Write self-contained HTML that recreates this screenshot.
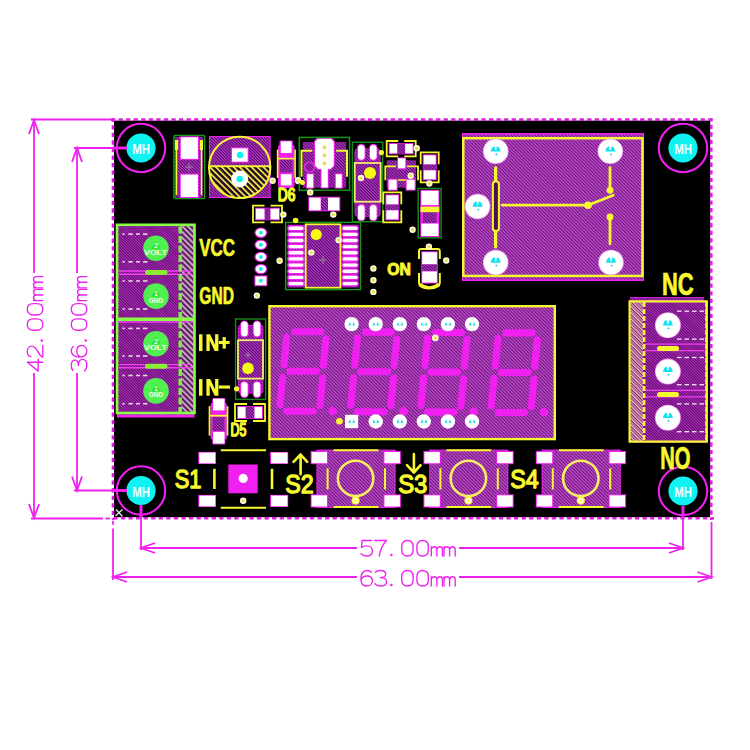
<!DOCTYPE html><html><head><meta charset="utf-8"><style>html,body{margin:0;padding:0;background:#fff;}svg{display:block}</style></head><body>
<svg width="750" height="750" viewBox="0 0 750 750">
<defs>
<pattern id="hA" patternUnits="userSpaceOnUse" width="2.2" height="2.2" patternTransform="rotate(-45)"><rect width="2.2" height="2.2" fill="#4c0a5c"/><rect width="1.2" height="2.2" fill="#b834cc"/></pattern>
<pattern id="hF" patternUnits="userSpaceOnUse" width="2.4" height="2.4" patternTransform="rotate(-45)"><rect width="2.4" height="2.4" fill="#6c1480"/><rect width="1.25" height="2.4" fill="#c450cc"/></pattern>
<pattern id="hT" patternUnits="userSpaceOnUse" width="2" height="2" patternTransform="rotate(-45)"><rect width="2" height="2" fill="#4a0852"/><rect width="1.15" height="2" fill="#b42cc4"/></pattern>
<pattern id="hY" patternUnits="userSpaceOnUse" width="4.2" height="4.2" patternTransform="rotate(-45)"><rect width="4.2" height="4.2" fill="#200820"/><rect width="1.8" height="4.2" fill="#e8e050"/></pattern>
<pattern id="hW" patternUnits="userSpaceOnUse" width="4" height="4" patternTransform="rotate(-45)"><rect width="4" height="4" fill="#602060"/><rect width="1.6" height="4" fill="#d8c0d8"/></pattern>
<pattern id="hW2" patternUnits="userSpaceOnUse" width="4.4" height="4.4" patternTransform="rotate(-45)"><rect width="4.4" height="4.4" fill="#6a1070"/><rect width="1.3" height="4.4" fill="#f0e4a0"/><rect x="2.2" width="1.3" height="4.4" fill="#f090d8"/></pattern>
</defs>
<rect width="750" height="750" fill="#fff"/>
<rect x="114.0" y="120.6" width="596.2" height="396.6" fill="#000" stroke="none" stroke-width="1" rx="0" />
<line x1="111" y1="119.6" x2="714" y2="119.6" stroke="#e020e0" stroke-width="2.6" stroke-dasharray="4.3 3.26" stroke-dashoffset="0.05"/>
<line x1="111" y1="518.2" x2="714" y2="518.2" stroke="#e020e0" stroke-width="2.6" stroke-dasharray="4.3 3.26" stroke-dashoffset="5.21"/>
<line x1="113" y1="118" x2="113" y2="520" stroke="#e020e0" stroke-width="2.6" stroke-dasharray="4.3 3.26" stroke-dashoffset="0.35"/>
<line x1="711.3" y1="118" x2="711.3" y2="520" stroke="#e020e0" stroke-width="2.6" stroke-dasharray="4.3 3.26" stroke-dashoffset="0.75"/>
<line x1="31.0" y1="119.5" x2="112.0" y2="119.5" stroke="#ee22ee" stroke-width="1.8" />
<line x1="31.0" y1="518.5" x2="103.0" y2="518.5" stroke="#ee22ee" stroke-width="1.8" />
<line x1="105.5" y1="518.5" x2="110.0" y2="518.5" stroke="#ee22ee" stroke-width="1.8" />
<line x1="34.0" y1="120.0" x2="34.0" y2="273.0" stroke="#ee22ee" stroke-width="1.8" />
<line x1="34.0" y1="373.0" x2="34.0" y2="518.0" stroke="#ee22ee" stroke-width="1.8" />
<path d="M29.0 134.0 L34.0 120.0 L39.0 134.0" fill="none" stroke="#ee22ee" stroke-width="1.8" />
<path d="M29.0 504.0 L34.0 518.0 L39.0 504.0" fill="none" stroke="#ee22ee" stroke-width="1.8" />
<line x1="74.0" y1="148.0" x2="127.0" y2="148.0" stroke="#ee22ee" stroke-width="1.8" />
<line x1="74.0" y1="490.5" x2="127.0" y2="490.5" stroke="#ee22ee" stroke-width="1.8" />
<line x1="77.0" y1="148.0" x2="77.0" y2="273.0" stroke="#ee22ee" stroke-width="1.8" />
<line x1="77.0" y1="373.0" x2="77.0" y2="490.5" stroke="#ee22ee" stroke-width="1.8" />
<path d="M72.0 162.0 L77.0 148.0 L82.0 162.0" fill="none" stroke="#ee22ee" stroke-width="1.8" />
<path d="M72.0 476.5 L77.0 490.5 L82.0 476.5" fill="none" stroke="#ee22ee" stroke-width="1.8" />
<line x1="141.0" y1="506.0" x2="141.0" y2="550.0" stroke="#ee22ee" stroke-width="1.8" />
<line x1="683.0" y1="506.0" x2="683.0" y2="550.0" stroke="#ee22ee" stroke-width="1.8" />
<line x1="141.0" y1="548.0" x2="357.0" y2="548.0" stroke="#ee22ee" stroke-width="1.8" />
<line x1="459.0" y1="548.0" x2="683.0" y2="548.0" stroke="#ee22ee" stroke-width="1.8" />
<path d="M155.0 543.0 L141.0 548.0 L155.0 553.0" fill="none" stroke="#ee22ee" stroke-width="1.8" />
<path d="M669.0 543.0 L683.0 548.0 L669.0 553.0" fill="none" stroke="#ee22ee" stroke-width="1.8" />
<line x1="113.0" y1="520.8" x2="113.0" y2="524.8" stroke="#ee22ee" stroke-width="1.8" />
<line x1="113.0" y1="528.5" x2="113.0" y2="580.0" stroke="#ee22ee" stroke-width="1.8" />
<line x1="711.5" y1="522.0" x2="711.5" y2="579.0" stroke="#ee22ee" stroke-width="1.8" />
<line x1="113.0" y1="577.0" x2="357.0" y2="577.0" stroke="#ee22ee" stroke-width="1.8" />
<line x1="459.0" y1="577.0" x2="711.5" y2="577.0" stroke="#ee22ee" stroke-width="1.8" />
<path d="M127.0 572.0 L113.0 577.0 L127.0 582.0" fill="none" stroke="#ee22ee" stroke-width="1.8" />
<path d="M697.5 572.0 L711.5 577.0 L697.5 582.0" fill="none" stroke="#ee22ee" stroke-width="1.8" />
<g transform="translate(360.6 556) rotate(0)" fill="none" stroke="#ee22ee" stroke-width="1.35" stroke-linecap="round" stroke-linejoin="round"><path transform="translate(0 0)" d="M11 -15.5 H1.6 L0.9 -8.6 C2.3 -9.7 4 -10.2 5.8 -10.2 C9.4 -10.2 11.8 -8 11.8 -5.1 C11.8 -2 9.4 0 5.9 0 C3.4 0 1.5 -0.9 0.4 -2.4"/><path transform="translate(14 0)" d="M0.3 -15.5 H11.8 C8.2 -11.5 5.6 -6.5 4.6 0"/><circle cx="30.8" cy="-1" r="1.3" fill="#ee22ee" stroke="none"/><path transform="translate(40.8 0)" d="M6 -15.5 C2.2 -15.5 0.3 -13 0.3 -9.5 V-6 C0.3 -2.5 2.2 0 6 0 C9.8 0 11.7 -2.5 11.7 -6 V-9.5 C11.7 -13 9.8 -15.5 6 -15.5 Z"/><path transform="translate(56 0)" d="M6 -15.5 C2.2 -15.5 0.3 -13 0.3 -9.5 V-6 C0.3 -2.5 2.2 0 6 0 C9.8 0 11.7 -2.5 11.7 -6 V-9.5 C11.7 -13 9.8 -15.5 6 -15.5 Z"/><path transform="translate(70.3 0)" d="M0.4 0 V-9.3 M0.4 -6.6 C1 -8.5 2.2 -9.3 3.5 -9.3 C5.2 -9.3 6 -8.2 6 -6.2 V0 M6 -6.6 C6.6 -8.5 7.8 -9.3 9.1 -9.3 C10.8 -9.3 11.6 -8.2 11.6 -6.2 V0"/><path transform="translate(83 0)" d="M0.4 0 V-9.3 M0.4 -6.6 C1 -8.5 2.2 -9.3 3.5 -9.3 C5.2 -9.3 6 -8.2 6 -6.2 V0 M6 -6.6 C6.6 -8.5 7.8 -9.3 9.1 -9.3 C10.8 -9.3 11.6 -8.2 11.6 -6.2 V0"/></g>
<g transform="translate(360.6 586) rotate(0)" fill="none" stroke="#ee22ee" stroke-width="1.35" stroke-linecap="round" stroke-linejoin="round"><path transform="translate(0 0)" d="M10.8 -13.6 C9.8 -14.9 8.3 -15.5 6.6 -15.5 C2.6 -15.5 0.3 -12.2 0.3 -7.2 C0.3 -2.6 2.5 0 6 0 C9.5 0 11.8 -2.2 11.8 -5.1 C11.8 -8.1 9.5 -10 6.3 -10 C3.6 -10 1.5 -8.6 0.4 -6.6"/><path transform="translate(14 0)" d="M0.9 -13.8 C2 -15 3.8 -15.5 5.9 -15.5 C9.2 -15.5 11.1 -13.9 11.1 -11.7 C11.1 -9.5 9.1 -8.4 5.6 -8.4 C9.6 -8.4 11.9 -6.8 11.9 -4.3 C11.9 -1.6 9.5 0 5.9 0 C3.4 0 1.5 -0.8 0.3 -2.2"/><circle cx="30.8" cy="-1" r="1.3" fill="#ee22ee" stroke="none"/><path transform="translate(40.8 0)" d="M6 -15.5 C2.2 -15.5 0.3 -13 0.3 -9.5 V-6 C0.3 -2.5 2.2 0 6 0 C9.8 0 11.7 -2.5 11.7 -6 V-9.5 C11.7 -13 9.8 -15.5 6 -15.5 Z"/><path transform="translate(56 0)" d="M6 -15.5 C2.2 -15.5 0.3 -13 0.3 -9.5 V-6 C0.3 -2.5 2.2 0 6 0 C9.8 0 11.7 -2.5 11.7 -6 V-9.5 C11.7 -13 9.8 -15.5 6 -15.5 Z"/><path transform="translate(70.3 0)" d="M0.4 0 V-9.3 M0.4 -6.6 C1 -8.5 2.2 -9.3 3.5 -9.3 C5.2 -9.3 6 -8.2 6 -6.2 V0 M6 -6.6 C6.6 -8.5 7.8 -9.3 9.1 -9.3 C10.8 -9.3 11.6 -8.2 11.6 -6.2 V0"/><path transform="translate(83 0)" d="M0.4 0 V-9.3 M0.4 -6.6 C1 -8.5 2.2 -9.3 3.5 -9.3 C5.2 -9.3 6 -8.2 6 -6.2 V0 M6 -6.6 C6.6 -8.5 7.8 -9.3 9.1 -9.3 C10.8 -9.3 11.6 -8.2 11.6 -6.2 V0"/></g>
<g transform="translate(42.8 371.3) rotate(-90)" fill="none" stroke="#ee22ee" stroke-width="1.35" stroke-linecap="round" stroke-linejoin="round"><path transform="translate(0 0)" d="M9 0 V-15.5 L0.2 -4.6 H12"/><path transform="translate(14 0)" d="M0.7 -11.9 C1.1 -14.2 3.2 -15.5 5.9 -15.5 C9 -15.5 11.2 -13.8 11.2 -11.1 C11.2 -8.5 9 -6.7 5.2 -4.6 C2.6 -3.2 0.7 -1.7 0.2 0 H11.9"/><circle cx="30.8" cy="-1" r="1.3" fill="#ee22ee" stroke="none"/><path transform="translate(40.8 0)" d="M6 -15.5 C2.2 -15.5 0.3 -13 0.3 -9.5 V-6 C0.3 -2.5 2.2 0 6 0 C9.8 0 11.7 -2.5 11.7 -6 V-9.5 C11.7 -13 9.8 -15.5 6 -15.5 Z"/><path transform="translate(56 0)" d="M6 -15.5 C2.2 -15.5 0.3 -13 0.3 -9.5 V-6 C0.3 -2.5 2.2 0 6 0 C9.8 0 11.7 -2.5 11.7 -6 V-9.5 C11.7 -13 9.8 -15.5 6 -15.5 Z"/><path transform="translate(70.3 0)" d="M0.4 0 V-9.3 M0.4 -6.6 C1 -8.5 2.2 -9.3 3.5 -9.3 C5.2 -9.3 6 -8.2 6 -6.2 V0 M6 -6.6 C6.6 -8.5 7.8 -9.3 9.1 -9.3 C10.8 -9.3 11.6 -8.2 11.6 -6.2 V0"/><path transform="translate(83 0)" d="M0.4 0 V-9.3 M0.4 -6.6 C1 -8.5 2.2 -9.3 3.5 -9.3 C5.2 -9.3 6 -8.2 6 -6.2 V0 M6 -6.6 C6.6 -8.5 7.8 -9.3 9.1 -9.3 C10.8 -9.3 11.6 -8.2 11.6 -6.2 V0"/></g>
<g transform="translate(86.8 371.3) rotate(-90)" fill="none" stroke="#ee22ee" stroke-width="1.35" stroke-linecap="round" stroke-linejoin="round"><path transform="translate(0 0)" d="M0.9 -13.8 C2 -15 3.8 -15.5 5.9 -15.5 C9.2 -15.5 11.1 -13.9 11.1 -11.7 C11.1 -9.5 9.1 -8.4 5.6 -8.4 C9.6 -8.4 11.9 -6.8 11.9 -4.3 C11.9 -1.6 9.5 0 5.9 0 C3.4 0 1.5 -0.8 0.3 -2.2"/><path transform="translate(14 0)" d="M10.8 -13.6 C9.8 -14.9 8.3 -15.5 6.6 -15.5 C2.6 -15.5 0.3 -12.2 0.3 -7.2 C0.3 -2.6 2.5 0 6 0 C9.5 0 11.8 -2.2 11.8 -5.1 C11.8 -8.1 9.5 -10 6.3 -10 C3.6 -10 1.5 -8.6 0.4 -6.6"/><circle cx="30.8" cy="-1" r="1.3" fill="#ee22ee" stroke="none"/><path transform="translate(40.8 0)" d="M6 -15.5 C2.2 -15.5 0.3 -13 0.3 -9.5 V-6 C0.3 -2.5 2.2 0 6 0 C9.8 0 11.7 -2.5 11.7 -6 V-9.5 C11.7 -13 9.8 -15.5 6 -15.5 Z"/><path transform="translate(56 0)" d="M6 -15.5 C2.2 -15.5 0.3 -13 0.3 -9.5 V-6 C0.3 -2.5 2.2 0 6 0 C9.8 0 11.7 -2.5 11.7 -6 V-9.5 C11.7 -13 9.8 -15.5 6 -15.5 Z"/><path transform="translate(70.3 0)" d="M0.4 0 V-9.3 M0.4 -6.6 C1 -8.5 2.2 -9.3 3.5 -9.3 C5.2 -9.3 6 -8.2 6 -6.2 V0 M6 -6.6 C6.6 -8.5 7.8 -9.3 9.1 -9.3 C10.8 -9.3 11.6 -8.2 11.6 -6.2 V0"/><path transform="translate(83 0)" d="M0.4 0 V-9.3 M0.4 -6.6 C1 -8.5 2.2 -9.3 3.5 -9.3 C5.2 -9.3 6 -8.2 6 -6.2 V0 M6 -6.6 C6.6 -8.5 7.8 -9.3 9.1 -9.3 C10.8 -9.3 11.6 -8.2 11.6 -6.2 V0"/></g>
<path d="M115.5 516 L122.5 509.5 M116 509.5 L122.5 516.5" fill="none" stroke="#e8e8e8" stroke-width="1.3" />
<circle cx="141.0" cy="148.0" r="24.2" fill="none" stroke="#f020f0" stroke-width="2.1" />
<circle cx="141.0" cy="148.0" r="14.6" fill="#10f2f2" stroke="none" stroke-width="1" />
<text x="132.2" y="154.0" font-family="Liberation Sans" font-size="14.4" font-weight="bold" fill="#f4ffff" textLength="17.8" lengthAdjust="spacingAndGlyphs">MH</text>
<circle cx="683.0" cy="148.0" r="24.2" fill="none" stroke="#f020f0" stroke-width="2.1" />
<circle cx="683.0" cy="148.0" r="14.6" fill="#10f2f2" stroke="none" stroke-width="1" />
<text x="674.2" y="154.0" font-family="Liberation Sans" font-size="14.4" font-weight="bold" fill="#f4ffff" textLength="17.8" lengthAdjust="spacingAndGlyphs">MH</text>
<circle cx="141.0" cy="490.5" r="24.2" fill="none" stroke="#f020f0" stroke-width="2.1" />
<circle cx="141.0" cy="490.5" r="14.6" fill="#10f2f2" stroke="none" stroke-width="1" />
<text x="132.2" y="496.5" font-family="Liberation Sans" font-size="14.4" font-weight="bold" fill="#f4ffff" textLength="17.8" lengthAdjust="spacingAndGlyphs">MH</text>
<circle cx="683.0" cy="491.0" r="24.2" fill="none" stroke="#f020f0" stroke-width="2.1" />
<circle cx="683.0" cy="491.0" r="14.6" fill="#10f2f2" stroke="none" stroke-width="1" />
<text x="674.2" y="497.0" font-family="Liberation Sans" font-size="14.4" font-weight="bold" fill="#f4ffff" textLength="17.8" lengthAdjust="spacingAndGlyphs">MH</text>
<line x1="113.0" y1="148.0" x2="127.0" y2="148.0" stroke="#f020f0" stroke-width="3" />
<line x1="113.0" y1="490.5" x2="127.0" y2="490.5" stroke="#f020f0" stroke-width="3" />
<line x1="141.0" y1="505.0" x2="141.0" y2="518.0" stroke="#f020f0" stroke-width="3" />
<line x1="683.0" y1="506.0" x2="683.0" y2="518.0" stroke="#f020f0" stroke-width="3" />
<rect x="117.0" y="224.0" width="77.5" height="193.5" fill="#f020f0" stroke="none" stroke-width="1" rx="0" />
<rect x="118.0" y="225.0" width="75.5" height="189.5" fill="url(#hT)" stroke="none" stroke-width="1" rx="0" />
<rect x="181.5" y="226.0" width="12.0" height="188.0" fill="url(#hW)" stroke="none" stroke-width="1" rx="0" />
<line x1="119.0" y1="271.0" x2="192.0" y2="271.0" stroke="#f040f0" stroke-width="1.4" />
<line x1="119.0" y1="274.2" x2="192.0" y2="274.2" stroke="#f040f0" stroke-width="1.4" />
<line x1="119.0" y1="364.6" x2="192.0" y2="364.6" stroke="#f040f0" stroke-width="1.4" />
<line x1="119.0" y1="367.8" x2="192.0" y2="367.8" stroke="#f040f0" stroke-width="1.4" />
<rect x="117.0" y="224.8" width="77.5" height="188.2" fill="none" stroke="#88ff44" stroke-width="2.6" rx="0" />
<line x1="118.0" y1="322.0" x2="193.0" y2="322.0" stroke="#f040f0" stroke-width="1.6" />
<line x1="117.0" y1="319.2" x2="194.5" y2="319.2" stroke="#88ff44" stroke-width="3.4" />
<line x1="180.2" y1="226.5" x2="180.2" y2="412.0" stroke="#80f040" stroke-width="3.4" stroke-dasharray="7 2.5"/>
<line x1="117.5" y1="227.0" x2="117.5" y2="412.0" stroke="#88ff44" stroke-width="1.5" stroke-dasharray="3 3"/>
<circle cx="156.0" cy="248.2" r="12.8" fill="#50f050" stroke="none" stroke-width="1" />
<circle cx="156.0" cy="296.1" r="12.8" fill="#50f050" stroke="none" stroke-width="1" />
<circle cx="156.0" cy="343.8" r="12.8" fill="#50f050" stroke="none" stroke-width="1" />
<circle cx="156.0" cy="390.9" r="12.8" fill="#50f050" stroke="none" stroke-width="1" />
<line x1="147.5" y1="272.6" x2="165.0" y2="272.6" stroke="#88f030" stroke-width="5" stroke-linecap="round"/>
<line x1="147.5" y1="366.2" x2="165.0" y2="366.2" stroke="#88f030" stroke-width="5" stroke-linecap="round"/>
<line x1="122.5" y1="234.1" x2="124.7" y2="234.1" stroke="#e8d8e8" stroke-width="1.6" />
<line x1="128.4" y1="234.1" x2="132.7" y2="234.1" stroke="#e8d8e8" stroke-width="1.6" />
<line x1="136.1" y1="234.1" x2="139.9" y2="234.1" stroke="#e8d8e8" stroke-width="1.6" />
<line x1="143.0" y1="234.1" x2="147.4" y2="234.1" stroke="#e8d8e8" stroke-width="1.6" />
<line x1="122.5" y1="261.8" x2="124.7" y2="261.8" stroke="#e8d8e8" stroke-width="1.6" />
<line x1="128.4" y1="261.8" x2="132.7" y2="261.8" stroke="#e8d8e8" stroke-width="1.6" />
<line x1="136.1" y1="261.8" x2="139.9" y2="261.8" stroke="#e8d8e8" stroke-width="1.6" />
<line x1="143.0" y1="261.8" x2="147.4" y2="261.8" stroke="#e8d8e8" stroke-width="1.6" />
<line x1="122.5" y1="281.0" x2="124.7" y2="281.0" stroke="#e8d8e8" stroke-width="1.6" />
<line x1="128.4" y1="281.0" x2="132.7" y2="281.0" stroke="#e8d8e8" stroke-width="1.6" />
<line x1="136.1" y1="281.0" x2="139.9" y2="281.0" stroke="#e8d8e8" stroke-width="1.6" />
<line x1="143.0" y1="281.0" x2="147.4" y2="281.0" stroke="#e8d8e8" stroke-width="1.6" />
<line x1="122.5" y1="309.0" x2="124.7" y2="309.0" stroke="#e8d8e8" stroke-width="1.6" />
<line x1="128.4" y1="309.0" x2="132.7" y2="309.0" stroke="#e8d8e8" stroke-width="1.6" />
<line x1="136.1" y1="309.0" x2="139.9" y2="309.0" stroke="#e8d8e8" stroke-width="1.6" />
<line x1="143.0" y1="309.0" x2="147.4" y2="309.0" stroke="#e8d8e8" stroke-width="1.6" />
<line x1="122.5" y1="328.4" x2="124.7" y2="328.4" stroke="#e8d8e8" stroke-width="1.6" />
<line x1="128.4" y1="328.4" x2="132.7" y2="328.4" stroke="#e8d8e8" stroke-width="1.6" />
<line x1="136.1" y1="328.4" x2="139.9" y2="328.4" stroke="#e8d8e8" stroke-width="1.6" />
<line x1="143.0" y1="328.4" x2="147.4" y2="328.4" stroke="#e8d8e8" stroke-width="1.6" />
<line x1="122.5" y1="356.0" x2="124.7" y2="356.0" stroke="#e8d8e8" stroke-width="1.6" />
<line x1="128.4" y1="356.0" x2="132.7" y2="356.0" stroke="#e8d8e8" stroke-width="1.6" />
<line x1="136.1" y1="356.0" x2="139.9" y2="356.0" stroke="#e8d8e8" stroke-width="1.6" />
<line x1="143.0" y1="356.0" x2="147.4" y2="356.0" stroke="#e8d8e8" stroke-width="1.6" />
<line x1="122.5" y1="375.5" x2="124.7" y2="375.5" stroke="#e8d8e8" stroke-width="1.6" />
<line x1="128.4" y1="375.5" x2="132.7" y2="375.5" stroke="#e8d8e8" stroke-width="1.6" />
<line x1="136.1" y1="375.5" x2="139.9" y2="375.5" stroke="#e8d8e8" stroke-width="1.6" />
<line x1="143.0" y1="375.5" x2="147.4" y2="375.5" stroke="#e8d8e8" stroke-width="1.6" />
<line x1="122.5" y1="403.7" x2="124.7" y2="403.7" stroke="#e8d8e8" stroke-width="1.6" />
<line x1="128.4" y1="403.7" x2="132.7" y2="403.7" stroke="#e8d8e8" stroke-width="1.6" />
<line x1="136.1" y1="403.7" x2="139.9" y2="403.7" stroke="#e8d8e8" stroke-width="1.6" />
<line x1="143.0" y1="403.7" x2="147.4" y2="403.7" stroke="#e8d8e8" stroke-width="1.6" />
<path d="M151.5 248.7 L156 241.2 L160.5 248.7 Z" fill="#20e030" stroke="none" stroke-width="1" />
<text x="156.0" y="248.2" font-family="Liberation Sans" font-size="7" font-weight="bold" fill="#e8ffe8" text-anchor="middle" >2</text>
<text x="144" y="254.7" font-family="Liberation Sans" font-size="8" font-weight="bold" fill="#f0fff0" textLength="23" lengthAdjust="spacingAndGlyphs">VOLT</text>
<path d="M151.5 296.6 L156 289.1 L160.5 296.6 Z" fill="#20e030" stroke="none" stroke-width="1" />
<text x="156.0" y="296.1" font-family="Liberation Sans" font-size="7" font-weight="bold" fill="#e8ffe8" text-anchor="middle" >1</text>
<text x="148.7" y="302.6" font-family="Liberation Sans" font-size="8" font-weight="bold" fill="#f0fff0" textLength="14.6" lengthAdjust="spacingAndGlyphs">GND</text>
<path d="M151.5 344.3 L156 336.8 L160.5 344.3 Z" fill="#20e030" stroke="none" stroke-width="1" />
<text x="156.0" y="343.8" font-family="Liberation Sans" font-size="7" font-weight="bold" fill="#e8ffe8" text-anchor="middle" >2</text>
<text x="144" y="350.3" font-family="Liberation Sans" font-size="8" font-weight="bold" fill="#f0fff0" textLength="23" lengthAdjust="spacingAndGlyphs">VOLT</text>
<path d="M151.5 391.4 L156 383.9 L160.5 391.4 Z" fill="#20e030" stroke="none" stroke-width="1" />
<text x="156.0" y="390.9" font-family="Liberation Sans" font-size="7" font-weight="bold" fill="#e8ffe8" text-anchor="middle" >1</text>
<text x="148.7" y="397.4" font-family="Liberation Sans" font-size="8" font-weight="bold" fill="#f0fff0" textLength="14.6" lengthAdjust="spacingAndGlyphs">GND</text>
<text x="199.15" y="256.35" font-family="Liberation Sans" font-size="23" font-weight="bold" fill="#f8f830" stroke="#f8f830" stroke-width="0.7" stroke-linejoin="round" textLength="35.70" lengthAdjust="spacingAndGlyphs">VCC</text>
<text x="199.35" y="303.55" font-family="Liberation Sans" font-size="23" font-weight="bold" fill="#f8f830" stroke="#f8f830" stroke-width="0.7" stroke-linejoin="round" textLength="34.60" lengthAdjust="spacingAndGlyphs">GND</text>
<rect x="199.0" y="334.3" width="3.5" height="16.7" fill="#f8f830" stroke="none" stroke-width="1" rx="0" />
<path d="M206.4 334.3 H210.1 L215.1 344.8 V334.3 H218.4 V351 H214.7 L209.7 340.5 V351 H206.4 Z" fill="#f8f830" stroke="none" stroke-width="1" />
<rect x="222.6" y="337.1" width="3.2" height="11.5" fill="#f8f830" stroke="none" stroke-width="1" rx="0" />
<rect x="218.8" y="341.0" width="10.8" height="3.0" fill="#f8f830" stroke="none" stroke-width="1" rx="0" />
<rect x="199.0" y="379.1" width="3.5" height="16.6" fill="#f8f830" stroke="none" stroke-width="1" rx="0" />
<path d="M206.4 379.1 H210.1 L215.1 389.5 V379.1 H218.4 V395.7 H214.7 L209.7 385.3 V395.7 H206.4 Z" fill="#f8f830" stroke="none" stroke-width="1" />
<rect x="218.8" y="385.5" width="11.2" height="3.1" fill="#f8f830" stroke="none" stroke-width="1" rx="0" />
<rect x="175.0" y="137.0" width="28.0" height="60.5" fill="url(#hA)" stroke="none" stroke-width="1" rx="0" />
<rect x="174.0" y="135.5" width="30.6" height="63.1" fill="none" stroke="#1a9a1a" stroke-width="1.5" rx="1" />
<rect x="179.8" y="136.3" width="19.1" height="23.6" fill="#f020f0" stroke="none" stroke-width="1" rx="0" />
<rect x="180.8" y="137.3" width="17.1" height="21.6" fill="#fff" stroke="none" stroke-width="1" rx="0" />
<rect x="179.8" y="173.6" width="19.1" height="24.4" fill="#f020f0" stroke="none" stroke-width="1" rx="0" />
<rect x="180.8" y="174.6" width="17.1" height="22.4" fill="#fff" stroke="none" stroke-width="1" rx="0" />
<line x1="176.5" y1="140.0" x2="176.5" y2="195.0" stroke="#f8f830" stroke-width="1.5" />
<line x1="201.5" y1="140.0" x2="201.5" y2="195.0" stroke="#f8f830" stroke-width="1.5" />
<rect x="175.0" y="140.0" width="3.2" height="10.0" fill="#f8f830" stroke="none" stroke-width="1" rx="0" />
<rect x="199.8" y="140.0" width="3.2" height="10.0" fill="#f8f830" stroke="none" stroke-width="1" rx="0" />
<line x1="185.0" y1="167.0" x2="193.0" y2="167.0" stroke="#a0a0a0" stroke-width="0.8" />
<line x1="189.0" y1="163.0" x2="189.0" y2="171.0" stroke="#a0a0a0" stroke-width="0.8" />
<rect x="209.0" y="136.0" width="61.7" height="62.0" fill="#f020f0" stroke="none" stroke-width="1" rx="0" />
<rect x="210.0" y="137.0" width="59.7" height="60.0" fill="url(#hA)" stroke="none" stroke-width="1" rx="0" />
<clipPath id="ecb"><rect x="205" y="166.3" width="70" height="40"/></clipPath>
<circle cx="239.7" cy="167.4" r="30.7" fill="url(#hY)" stroke="none" stroke-width="1" clip-path="url(#ecb)"/>
<circle cx="239.7" cy="167.4" r="30.7" fill="none" stroke="#f8f830" stroke-width="2" />
<line x1="209.5" y1="166.3" x2="270.2" y2="166.3" stroke="#f8f830" stroke-width="2" />
<rect x="231.0" y="147.3" width="17.7" height="15.4" fill="#f020f0" stroke="none" stroke-width="1" rx="0" />
<rect x="232.0" y="148.3" width="15.7" height="13.4" fill="#fff" stroke="none" stroke-width="1" rx="0" />
<circle cx="240.0" cy="155.0" r="3.2" fill="#10f2f2" stroke="none" stroke-width="1" />
<circle cx="239.7" cy="179.0" r="8.5" fill="#fff" stroke="none" stroke-width="1" />
<circle cx="239.7" cy="179.0" r="3.2" fill="#10f2f2" stroke="none" stroke-width="1" />
<rect x="278.0" y="144.5" width="16.6" height="43.5" fill="#f020f0" stroke="none" stroke-width="1" rx="3" />
<rect x="279.5" y="140.4" width="13.4" height="13.6" fill="#f020f0" stroke="none" stroke-width="1" rx="1" />
<rect x="279.5" y="173.3" width="13.4" height="13.1" fill="#f020f0" stroke="none" stroke-width="1" rx="1" />
<rect x="279.8" y="159.5" width="12.8" height="13.0" fill="url(#hA)" stroke="none" stroke-width="1" rx="0" />
<rect x="280.8" y="141.3" width="10.8" height="11.7" fill="#fff" stroke="none" stroke-width="1" rx="0" />
<rect x="280.8" y="174.2" width="10.8" height="11.2" fill="#fff" stroke="none" stroke-width="1" rx="0" />
<line x1="277.6" y1="149.5" x2="277.6" y2="178.0" stroke="#f8f830" stroke-width="1.6" />
<line x1="295.1" y1="149.5" x2="295.1" y2="178.0" stroke="#f8f830" stroke-width="1.6" />
<line x1="277.6" y1="158.6" x2="295.1" y2="158.6" stroke="#f8f830" stroke-width="1.6" />
<text x="277.70" y="200.80" font-family="Liberation Sans" font-size="18" fill="#f8f830" stroke="#f8f830" stroke-width="1.6" stroke-linejoin="round" textLength="17.60" lengthAdjust="spacingAndGlyphs">D6</text>
<circle cx="272.7" cy="180.8" r="3.2" fill="#fffbe0" stroke="none" stroke-width="1" />
<circle cx="272.7" cy="180.8" r="1.6" fill="#e8e040" stroke="none" stroke-width="1" />
<circle cx="298.3" cy="181.0" r="3.2" fill="#fffbe0" stroke="none" stroke-width="1" />
<circle cx="298.3" cy="181.0" r="1.6" fill="#e8e040" stroke="none" stroke-width="1" />
<rect x="255.0" y="207.7" width="25.0" height="12.6" fill="#f020f0" stroke="none" stroke-width="1" rx="0" />
<rect x="264.5" y="208.2" width="6.0" height="11.6" fill="url(#hA)" stroke="none" stroke-width="1" rx="0" />
<rect x="256.0" y="208.7" width="8.5" height="10.6" fill="#fff" stroke="none" stroke-width="1" rx="0" />
<rect x="270.5" y="208.7" width="8.5" height="10.6" fill="#fff" stroke="none" stroke-width="1" rx="0" />
<path d="M264.5 205.7 H253.0 V222.3 H264.5 M270.5 205.7 H282.0 V222.3 H270.5" fill="none" stroke="#f8f830" stroke-width="1.8" />
<circle cx="283.3" cy="214.6" r="3.2" fill="#fffbe0" stroke="none" stroke-width="1" />
<circle cx="283.3" cy="214.6" r="1.6" fill="#e8e040" stroke="none" stroke-width="1" />
<rect x="302.8" y="142.0" width="43.4" height="45.7" fill="url(#hA)" stroke="none" stroke-width="1" rx="0" />
<path d="M317 137.7 H332 L334.8 141 V166 L331 170 H328.8 V188.4 H320.5 V170 H318 L314.1 166 V141 Z" fill="#f020f0" stroke="none" stroke-width="1" />
<rect x="306.1" y="173.2" width="8.1" height="15.5" fill="#f020f0" stroke="none" stroke-width="1" rx="0" />
<rect x="334.8" y="173.2" width="8.0" height="15.5" fill="#f020f0" stroke="none" stroke-width="1" rx="0" />
<path d="M318 138.7 H331 L333.8 141.5 V165.5 L330.5 169 H327.8 V187.4 H321.5 V169 H318.5 L315.1 165.5 V141.5 Z" fill="#fff" stroke="none" stroke-width="1" />
<rect x="307.1" y="174.2" width="6.1" height="13.5" fill="#fff" stroke="none" stroke-width="1" rx="0" />
<rect x="335.8" y="174.2" width="6.0" height="13.5" fill="#fff" stroke="none" stroke-width="1" rx="0" />
<circle cx="324.5" cy="147.3" r="1.8" fill="#e8d840" stroke="none" stroke-width="1" />
<circle cx="324.5" cy="155.3" r="1.8" fill="#e8d840" stroke="none" stroke-width="1" />
<circle cx="324.5" cy="163.2" r="1.8" fill="#e8d840" stroke="none" stroke-width="1" />
<circle cx="309.5" cy="167.0" r="5.0" fill="none" stroke="#f030f0" stroke-width="1.2" />
<rect x="299.3" y="137.4" width="50.2" height="52.9" fill="none" stroke="#1a8a1a" stroke-width="1.6" rx="0" />
<path d="M312.3 150.8 H301.5 V176.8" fill="none" stroke="#f8f830" stroke-width="2" />
<path d="M336.2 150.8 H347 V176.8" fill="none" stroke="#f8f830" stroke-width="2" />
<circle cx="298.0" cy="180.3" r="3.2" fill="#fffbe0" stroke="none" stroke-width="1" />
<circle cx="298.0" cy="180.3" r="1.6" fill="#e8e040" stroke="none" stroke-width="1" />
<circle cx="302.4" cy="182.5" r="2.5" fill="#f8f830" stroke="none" stroke-width="1" />
<circle cx="310.2" cy="192.4" r="3.2" fill="#fffbe0" stroke="none" stroke-width="1" />
<circle cx="310.2" cy="192.4" r="1.6" fill="#e8e040" stroke="none" stroke-width="1" />
<rect x="308.3" y="196.7" width="32.0" height="14.6" fill="#f020f0" stroke="none" stroke-width="1" rx="0" />
<rect x="320.7" y="197.7" width="7.3" height="12.6" fill="url(#hA)" stroke="none" stroke-width="1" rx="0" />
<rect x="309.3" y="197.7" width="11.4" height="12.6" fill="#fff" stroke="none" stroke-width="1" rx="0" />
<rect x="328.0" y="197.7" width="11.3" height="12.6" fill="#fff" stroke="none" stroke-width="1" rx="0" />
<circle cx="333.3" cy="214.6" r="3.2" fill="#fffbe0" stroke="none" stroke-width="1" />
<circle cx="333.3" cy="214.6" r="1.6" fill="#e8e040" stroke="none" stroke-width="1" />
<rect x="354.6" y="148.5" width="25.9" height="68.3" fill="#f020f0" stroke="none" stroke-width="1" rx="3" />
<rect x="355.4" y="149.2" width="24.3" height="66.9" fill="url(#hA)" stroke="none" stroke-width="1" rx="0" />
<rect x="357.0" y="143.8" width="8.6" height="17.1" fill="#f020f0" stroke="none" stroke-width="1" rx="4.3" />
<rect x="358.0" y="145.0" width="6.6" height="14.7" fill="#fff" stroke="none" stroke-width="1" rx="3.3" />
<rect x="357.0" y="203.8" width="8.6" height="17.7" fill="#f020f0" stroke="none" stroke-width="1" rx="4.3" />
<rect x="358.0" y="205.0" width="6.6" height="15.3" fill="#fff" stroke="none" stroke-width="1" rx="3.3" />
<rect x="369.0" y="143.8" width="8.6" height="17.1" fill="#f020f0" stroke="none" stroke-width="1" rx="4.3" />
<rect x="370.0" y="145.0" width="6.6" height="14.7" fill="#fff" stroke="none" stroke-width="1" rx="3.3" />
<rect x="369.0" y="203.8" width="8.6" height="17.7" fill="#f020f0" stroke="none" stroke-width="1" rx="4.3" />
<rect x="370.0" y="205.0" width="6.6" height="15.3" fill="#fff" stroke="none" stroke-width="1" rx="3.3" />
<rect x="354.7" y="163.0" width="26.0" height="38.7" fill="none" stroke="#f4ec70" stroke-width="1.8" rx="0" />
<circle cx="370.0" cy="173.0" r="6.0" fill="#f6fc10" stroke="none" stroke-width="1" />
<rect x="352.4" y="142.3" width="30.3" height="79.4" fill="none" stroke="#1a8a1a" stroke-width="1.4" rx="0" />
<circle cx="361.0" cy="178.0" r="3.2" fill="#fffbe0" stroke="none" stroke-width="1" />
<circle cx="361.0" cy="178.0" r="1.6" fill="#e8e040" stroke="none" stroke-width="1" />
<circle cx="381.4" cy="152.6" r="2.6" fill="#f8f830" stroke="none" stroke-width="1" />
<rect x="388.7" y="143.0" width="25.0" height="11.3" fill="#f020f0" stroke="none" stroke-width="1" rx="0" />
<rect x="397.2" y="143.5" width="8.0" height="10.3" fill="url(#hA)" stroke="none" stroke-width="1" rx="0" />
<rect x="389.7" y="144.0" width="7.5" height="9.3" fill="#fff" stroke="none" stroke-width="1" rx="0" />
<rect x="405.2" y="144.0" width="7.5" height="9.3" fill="#fff" stroke="none" stroke-width="1" rx="0" />
<path d="M398.2 141.0 H386.7 V156.3 H398.2 M404.2 141.0 H415.7 V156.3 H404.2" fill="none" stroke="#f8f830" stroke-width="1.8" />
<circle cx="416.7" cy="148.3" r="3.2" fill="#fffbe0" stroke="none" stroke-width="1" />
<circle cx="416.7" cy="148.3" r="1.6" fill="#e8e040" stroke="none" stroke-width="1" />
<rect x="386.7" y="160.3" width="29.3" height="27.4" fill="url(#hA)" stroke="none" stroke-width="1" rx="0" />
<rect x="397.0" y="157.3" width="9.3" height="12.0" fill="#f020f0" stroke="none" stroke-width="1" rx="0" />
<rect x="398.0" y="158.3" width="7.3" height="10.0" fill="#fff" stroke="none" stroke-width="1" rx="0" />
<rect x="387.7" y="178.7" width="10.0" height="12.0" fill="#f020f0" stroke="none" stroke-width="1" rx="0" />
<rect x="388.7" y="179.7" width="8.0" height="10.0" fill="#fff" stroke="none" stroke-width="1" rx="0" />
<rect x="405.7" y="178.7" width="10.0" height="12.0" fill="#f020f0" stroke="none" stroke-width="1" rx="0" />
<rect x="406.7" y="179.7" width="8.0" height="10.0" fill="#fff" stroke="none" stroke-width="1" rx="0" />
<path d="M396 166.3 H385.3 V180.3 M407 166.3 H418 V180.3" fill="none" stroke="#f8f830" stroke-width="1.8" />
<line x1="398.0" y1="180.0" x2="406.0" y2="180.0" stroke="#f8f830" stroke-width="1.5" />
<circle cx="410.7" cy="175.7" r="3.2" fill="#fffbe0" stroke="none" stroke-width="1" />
<circle cx="410.7" cy="175.7" r="1.6" fill="#e8e040" stroke="none" stroke-width="1" />
<rect x="422.7" y="154.3" width="14.0" height="26.0" fill="#f020f0" stroke="none" stroke-width="1" rx="0" />
<rect x="423.2" y="164.3" width="13.0" height="6.0" fill="url(#hA)" stroke="none" stroke-width="1" rx="0" />
<rect x="423.7" y="155.3" width="12.0" height="9.0" fill="#fff" stroke="none" stroke-width="1" rx="0" />
<rect x="423.7" y="170.3" width="12.0" height="9.0" fill="#fff" stroke="none" stroke-width="1" rx="0" />
<path d="M420.7 164.3 V152.3 H438.7 V164.3 M420.7 170.3 V182.3 H438.7 V170.3" fill="none" stroke="#f8f830" stroke-width="1.8" />
<circle cx="429.3" cy="183.5" r="3.2" fill="#fffbe0" stroke="none" stroke-width="1" />
<circle cx="429.3" cy="183.5" r="1.6" fill="#e8e040" stroke="none" stroke-width="1" />
<rect x="385.3" y="194.3" width="14.0" height="26.0" fill="#f020f0" stroke="none" stroke-width="1" rx="0" />
<rect x="385.8" y="204.3" width="13.0" height="6.0" fill="url(#hA)" stroke="none" stroke-width="1" rx="0" />
<rect x="386.3" y="195.3" width="12.0" height="9.0" fill="#fff" stroke="none" stroke-width="1" rx="0" />
<rect x="386.3" y="210.3" width="12.0" height="9.0" fill="#fff" stroke="none" stroke-width="1" rx="0" />
<path d="M383.3 204.3 V192.3 H401.3 V204.3 M383.3 210.3 V222.3 H401.3 V210.3" fill="none" stroke="#f8f830" stroke-width="1.8" />
<rect x="420.3" y="189.8" width="19.2" height="47.2" fill="#f020f0" stroke="none" stroke-width="1" rx="0" />
<rect x="423.0" y="212.0" width="13.6" height="11.0" fill="url(#hA)" stroke="none" stroke-width="1" rx="0" />
<rect x="421.3" y="190.8" width="17.2" height="14.2" fill="#fff" stroke="none" stroke-width="1" rx="0" />
<rect x="420.5" y="206.6" width="18.8" height="5.6" fill="#f8f830" stroke="none" stroke-width="1" rx="0" />
<rect x="421.3" y="223.6" width="17.2" height="12.4" fill="#fff" stroke="none" stroke-width="1" rx="0" />
<rect x="418.2" y="188.5" width="22.9" height="49.3" fill="none" stroke="#1a8a1a" stroke-width="1.4" rx="0" />
<circle cx="412.6" cy="229.8" r="3.2" fill="#fffbe0" stroke="none" stroke-width="1" />
<circle cx="412.6" cy="229.8" r="1.6" fill="#e8e040" stroke="none" stroke-width="1" />
<rect x="421.2" y="251.2" width="16.7" height="32.4" fill="#f020f0" stroke="none" stroke-width="1" rx="0" />
<rect x="422.2" y="264.2" width="14.7" height="7.2" fill="url(#hA)" stroke="none" stroke-width="1" rx="0" />
<rect x="422.2" y="252.2" width="14.7" height="12.0" fill="#fff" stroke="none" stroke-width="1" rx="0" />
<rect x="422.2" y="271.4" width="14.7" height="11.2" fill="#fff" stroke="none" stroke-width="1" rx="0" />
<path d="M419 259 V251 Q419 249 421 249 H437.5 Q439.8 249 439.8 251 V259 M419 273 V283 Q419 288 429 288.5 Q439.8 288 439.8 283 V273" fill="none" stroke="#f8f830" stroke-width="2" />
<path d="M420 284 Q429 291 439 284" fill="none" stroke="#f8f830" stroke-width="2.5" />
<circle cx="428.9" cy="246.6" r="3.2" fill="#fffbe0" stroke="none" stroke-width="1" />
<circle cx="428.9" cy="246.6" r="1.6" fill="#e8e040" stroke="none" stroke-width="1" />
<circle cx="446.2" cy="260.5" r="3.2" fill="#fffbe0" stroke="none" stroke-width="1" />
<circle cx="446.2" cy="260.5" r="1.6" fill="#e8e040" stroke="none" stroke-width="1" />
<text x="387.20" y="274.50" font-family="Liberation Sans" font-size="16.5" font-weight="bold" fill="#f8f830" stroke="#f8f830" stroke-width="1.0" stroke-linejoin="round" textLength="23.60" lengthAdjust="spacingAndGlyphs">ON</text>
<circle cx="373.4" cy="268.5" r="3.2" fill="#fffbe0" stroke="none" stroke-width="1" />
<circle cx="373.4" cy="268.5" r="1.6" fill="#e8e040" stroke="none" stroke-width="1" />
<circle cx="373.4" cy="280.2" r="3.2" fill="#fffbe0" stroke="none" stroke-width="1" />
<circle cx="373.4" cy="280.2" r="1.6" fill="#e8e040" stroke="none" stroke-width="1" />
<circle cx="373.4" cy="291.9" r="3.2" fill="#fffbe0" stroke="none" stroke-width="1" />
<circle cx="373.4" cy="291.9" r="1.6" fill="#e8e040" stroke="none" stroke-width="1" />
<rect x="462.0" y="133.0" width="182.0" height="148.0" fill="#f020f0" stroke="none" stroke-width="1" rx="0" />
<rect x="463.0" y="134.5" width="180.0" height="145.0" fill="url(#hF)" stroke="none" stroke-width="1" rx="0" />
<rect x="463.3" y="138.2" width="179.2" height="137.7" fill="none" stroke="#f8f830" stroke-width="2.5" rx="0" />
<circle cx="495.7" cy="151.3" r="12.8" fill="#f0a0f0" stroke="none" stroke-width="1" />
<circle cx="495.7" cy="151.3" r="12.0" fill="#fff" stroke="none" stroke-width="1" />
<path d="M490.7 151.6 Q491.5 146.4 494.7 146.4 L495.1 150.0 H496.3 L496.7 146.4 Q499.9 146.4 500.7 151.6 Z" fill="#10e4ee" stroke="none" stroke-width="1" />
<circle cx="496.3" cy="154.4" r="0.9" fill="#10c8d0" stroke="none" stroke-width="1" />
<circle cx="610.3" cy="151.3" r="12.8" fill="#f0a0f0" stroke="none" stroke-width="1" />
<circle cx="610.3" cy="151.3" r="12.0" fill="#fff" stroke="none" stroke-width="1" />
<path d="M605.3 151.6 Q606.1 146.4 609.3 146.4 L609.7 150.0 H610.9 L611.3 146.4 Q614.5 146.4 615.3 151.6 Z" fill="#10e4ee" stroke="none" stroke-width="1" />
<circle cx="610.9" cy="154.4" r="0.9" fill="#10c8d0" stroke="none" stroke-width="1" />
<circle cx="477.6" cy="206.5" r="12.8" fill="#f0a0f0" stroke="none" stroke-width="1" />
<circle cx="477.6" cy="206.5" r="12.0" fill="#fff" stroke="none" stroke-width="1" />
<path d="M472.6 206.8 Q473.4 201.6 476.6 201.6 L477.0 205.2 H478.2 L478.6 201.6 Q481.8 201.6 482.6 206.8 Z" fill="#10e4ee" stroke="none" stroke-width="1" />
<circle cx="478.2" cy="209.6" r="0.9" fill="#10c8d0" stroke="none" stroke-width="1" />
<circle cx="495.7" cy="262.5" r="12.8" fill="#f0a0f0" stroke="none" stroke-width="1" />
<circle cx="495.7" cy="262.5" r="12.0" fill="#fff" stroke="none" stroke-width="1" />
<path d="M490.7 262.8 Q491.5 257.6 494.7 257.6 L495.1 261.2 H496.3 L496.7 257.6 Q499.9 257.6 500.7 262.8 Z" fill="#10e4ee" stroke="none" stroke-width="1" />
<circle cx="496.3" cy="265.6" r="0.9" fill="#10c8d0" stroke="none" stroke-width="1" />
<circle cx="611.0" cy="262.5" r="12.8" fill="#f0a0f0" stroke="none" stroke-width="1" />
<circle cx="611.0" cy="262.5" r="12.0" fill="#fff" stroke="none" stroke-width="1" />
<path d="M606.0 262.8 Q606.8 257.6 610.0 257.6 L610.4 261.2 H611.6 L612.0 257.6 Q615.2 257.6 616.0 262.8 Z" fill="#10e4ee" stroke="none" stroke-width="1" />
<circle cx="611.6" cy="265.6" r="0.9" fill="#10c8d0" stroke="none" stroke-width="1" />
<line x1="495.6" y1="167.8" x2="495.6" y2="247.0" stroke="#f8f830" stroke-width="3.2" stroke-linecap="round"/>
<rect x="492.9" y="181.6" width="6.0" height="49.2" fill="#4a1050" stroke="#f8f830" stroke-width="2" rx="2.5" />
<line x1="502.2" y1="205.2" x2="588.0" y2="205.2" stroke="#f8f830" stroke-width="2.8" stroke-linecap="round"/>
<circle cx="588.0" cy="205.2" r="3.8" fill="#f8f830" stroke="none" stroke-width="1" />
<line x1="588.0" y1="205.2" x2="613.2" y2="195.2" stroke="#f8f830" stroke-width="2.8" stroke-linecap="round"/>
<line x1="610.0" y1="167.7" x2="610.0" y2="190.3" stroke="#f8f830" stroke-width="2.8" stroke-linecap="round"/>
<circle cx="610.0" cy="190.3" r="3.4" fill="#f8f830" stroke="none" stroke-width="1" />
<circle cx="610.0" cy="217.0" r="3.4" fill="#f8f830" stroke="none" stroke-width="1" />
<line x1="610.0" y1="217.0" x2="610.0" y2="243.7" stroke="#f8f830" stroke-width="2.8" stroke-linecap="round"/>
<rect x="305.7" y="224.3" width="34.7" height="63.4" fill="url(#hA)" stroke="none" stroke-width="1" rx="0" />
<rect x="287.6" y="224.6" width="17.4" height="63.0" fill="url(#hA)" stroke="none" stroke-width="1" rx="0" />
<rect x="341.0" y="224.6" width="17.6" height="63.0" fill="url(#hA)" stroke="none" stroke-width="1" rx="0" />
<rect x="287.2" y="225.3" width="17.6" height="5.8" fill="#f020f0" stroke="none" stroke-width="1" rx="2.9" />
<rect x="288.5" y="226.5" width="15.0" height="3.4" fill="#fff" stroke="none" stroke-width="1" rx="1.7" />
<rect x="341.3" y="225.3" width="17.6" height="5.8" fill="#f020f0" stroke="none" stroke-width="1" rx="2.9" />
<rect x="342.6" y="226.5" width="15.0" height="3.4" fill="#fff" stroke="none" stroke-width="1" rx="1.7" />
<rect x="287.2" y="231.4" width="17.6" height="5.8" fill="#f020f0" stroke="none" stroke-width="1" rx="2.9" />
<rect x="288.5" y="232.7" width="15.0" height="3.4" fill="#fff" stroke="none" stroke-width="1" rx="1.7" />
<rect x="341.3" y="231.4" width="17.6" height="5.8" fill="#f020f0" stroke="none" stroke-width="1" rx="2.9" />
<rect x="342.6" y="232.7" width="15.0" height="3.4" fill="#fff" stroke="none" stroke-width="1" rx="1.7" />
<rect x="287.2" y="237.6" width="17.6" height="5.8" fill="#f020f0" stroke="none" stroke-width="1" rx="2.9" />
<rect x="288.5" y="238.8" width="15.0" height="3.4" fill="#fff" stroke="none" stroke-width="1" rx="1.7" />
<rect x="341.3" y="237.6" width="17.6" height="5.8" fill="#f020f0" stroke="none" stroke-width="1" rx="2.9" />
<rect x="342.6" y="238.8" width="15.0" height="3.4" fill="#fff" stroke="none" stroke-width="1" rx="1.7" />
<rect x="287.2" y="243.7" width="17.6" height="5.8" fill="#f020f0" stroke="none" stroke-width="1" rx="2.9" />
<rect x="288.5" y="244.9" width="15.0" height="3.4" fill="#fff" stroke="none" stroke-width="1" rx="1.7" />
<rect x="341.3" y="243.7" width="17.6" height="5.8" fill="#f020f0" stroke="none" stroke-width="1" rx="2.9" />
<rect x="342.6" y="244.9" width="15.0" height="3.4" fill="#fff" stroke="none" stroke-width="1" rx="1.7" />
<rect x="287.2" y="249.9" width="17.6" height="5.8" fill="#f020f0" stroke="none" stroke-width="1" rx="2.9" />
<rect x="288.5" y="251.1" width="15.0" height="3.4" fill="#fff" stroke="none" stroke-width="1" rx="1.7" />
<rect x="341.3" y="249.9" width="17.6" height="5.8" fill="#f020f0" stroke="none" stroke-width="1" rx="2.9" />
<rect x="342.6" y="251.1" width="15.0" height="3.4" fill="#fff" stroke="none" stroke-width="1" rx="1.7" />
<rect x="287.2" y="256.1" width="17.6" height="5.8" fill="#f020f0" stroke="none" stroke-width="1" rx="2.9" />
<rect x="288.5" y="257.2" width="15.0" height="3.4" fill="#fff" stroke="none" stroke-width="1" rx="1.7" />
<rect x="341.3" y="256.1" width="17.6" height="5.8" fill="#f020f0" stroke="none" stroke-width="1" rx="2.9" />
<rect x="342.6" y="257.2" width="15.0" height="3.4" fill="#fff" stroke="none" stroke-width="1" rx="1.7" />
<rect x="287.2" y="262.2" width="17.6" height="5.8" fill="#f020f0" stroke="none" stroke-width="1" rx="2.9" />
<rect x="288.5" y="263.4" width="15.0" height="3.4" fill="#fff" stroke="none" stroke-width="1" rx="1.7" />
<rect x="341.3" y="262.2" width="17.6" height="5.8" fill="#f020f0" stroke="none" stroke-width="1" rx="2.9" />
<rect x="342.6" y="263.4" width="15.0" height="3.4" fill="#fff" stroke="none" stroke-width="1" rx="1.7" />
<rect x="287.2" y="268.4" width="17.6" height="5.8" fill="#f020f0" stroke="none" stroke-width="1" rx="2.9" />
<rect x="288.5" y="269.6" width="15.0" height="3.4" fill="#fff" stroke="none" stroke-width="1" rx="1.7" />
<rect x="341.3" y="268.4" width="17.6" height="5.8" fill="#f020f0" stroke="none" stroke-width="1" rx="2.9" />
<rect x="342.6" y="269.6" width="15.0" height="3.4" fill="#fff" stroke="none" stroke-width="1" rx="1.7" />
<rect x="287.2" y="274.5" width="17.6" height="5.8" fill="#f020f0" stroke="none" stroke-width="1" rx="2.9" />
<rect x="288.5" y="275.7" width="15.0" height="3.4" fill="#fff" stroke="none" stroke-width="1" rx="1.7" />
<rect x="341.3" y="274.5" width="17.6" height="5.8" fill="#f020f0" stroke="none" stroke-width="1" rx="2.9" />
<rect x="342.6" y="275.7" width="15.0" height="3.4" fill="#fff" stroke="none" stroke-width="1" rx="1.7" />
<rect x="287.2" y="280.7" width="17.6" height="5.8" fill="#f020f0" stroke="none" stroke-width="1" rx="2.9" />
<rect x="288.5" y="281.9" width="15.0" height="3.4" fill="#fff" stroke="none" stroke-width="1" rx="1.7" />
<rect x="341.3" y="280.7" width="17.6" height="5.8" fill="#f020f0" stroke="none" stroke-width="1" rx="2.9" />
<rect x="342.6" y="281.9" width="15.0" height="3.4" fill="#fff" stroke="none" stroke-width="1" rx="1.7" />
<rect x="305.7" y="224.3" width="34.7" height="63.4" fill="none" stroke="#f8f830" stroke-width="1.8" rx="0" />
<circle cx="316.2" cy="234.5" r="5.6" fill="#f6fc10" stroke="none" stroke-width="1" />
<rect x="285.7" y="222.4" width="74.7" height="67.2" fill="none" stroke="#1a9a1a" stroke-width="1.4" rx="0" />
<circle cx="338.6" cy="240.1" r="3.2" fill="#fffbe0" stroke="none" stroke-width="1" />
<circle cx="338.6" cy="240.1" r="1.6" fill="#e8e040" stroke="none" stroke-width="1" />
<circle cx="311.3" cy="252.6" r="3.2" fill="#fffbe0" stroke="none" stroke-width="1" />
<circle cx="311.3" cy="252.6" r="1.6" fill="#e8e040" stroke="none" stroke-width="1" />
<circle cx="295.6" cy="220.5" r="2.8" fill="#f8f830" stroke="none" stroke-width="1" />
<line x1="319.0" y1="260.0" x2="327.0" y2="260.0" stroke="#a0a0a0" stroke-width="0.8" />
<line x1="323.0" y1="256.0" x2="323.0" y2="264.0" stroke="#a0a0a0" stroke-width="0.8" />
<ellipse cx="260.9" cy="232.7" rx="6.4" ry="5.2" fill="#f020f0"/>
<ellipse cx="260.9" cy="232.7" rx="5.2" ry="4.1" fill="#fff"/>
<circle cx="260.9" cy="232.7" r="2.0" fill="#10f2f2" stroke="none" stroke-width="1" />
<ellipse cx="260.9" cy="244.8" rx="6.4" ry="5.2" fill="#f020f0"/>
<ellipse cx="260.9" cy="244.8" rx="5.2" ry="4.1" fill="#fff"/>
<circle cx="260.9" cy="244.8" r="2.0" fill="#10f2f2" stroke="none" stroke-width="1" />
<ellipse cx="260.9" cy="256.9" rx="6.4" ry="5.2" fill="#f020f0"/>
<ellipse cx="260.9" cy="256.9" rx="5.2" ry="4.1" fill="#fff"/>
<circle cx="260.9" cy="256.9" r="2.0" fill="#10f2f2" stroke="none" stroke-width="1" />
<ellipse cx="260.9" cy="269" rx="6.4" ry="5.2" fill="#f020f0"/>
<ellipse cx="260.9" cy="269" rx="5.2" ry="4.1" fill="#fff"/>
<circle cx="260.9" cy="269.0" r="2.0" fill="#10f2f2" stroke="none" stroke-width="1" />
<rect x="254.4" y="275.4" width="13.0" height="10.8" fill="#f020f0" stroke="none" stroke-width="1" rx="0" />
<rect x="255.4" y="276.4" width="11.0" height="8.8" fill="#fff" stroke="none" stroke-width="1" rx="0" />
<circle cx="260.9" cy="280.8" r="2.0" fill="#10f2f2" stroke="none" stroke-width="1" />
<circle cx="279.6" cy="260.7" r="3.2" fill="#fffbe0" stroke="none" stroke-width="1" />
<circle cx="279.6" cy="260.7" r="1.6" fill="#e8e040" stroke="none" stroke-width="1" />
<circle cx="256.8" cy="295.6" r="3.2" fill="#fffbe0" stroke="none" stroke-width="1" />
<circle cx="256.8" cy="295.6" r="1.6" fill="#e8e040" stroke="none" stroke-width="1" />
<rect x="269.4" y="306.2" width="285.4" height="132.9" fill="url(#hF)" stroke="none" stroke-width="1" rx="0" />
<rect x="269.4" y="306.2" width="285.4" height="132.9" fill="none" stroke="#f8f830" stroke-width="2.4" rx="0" />
<line x1="294.7" y1="331.7" x2="320.7" y2="331.7" stroke="#f020f0" stroke-width="7.1" stroke-linecap="round"/>
<line x1="326.0" y1="338.7" x2="323.3" y2="365.3" stroke="#f020f0" stroke-width="7.1" stroke-linecap="round"/>
<line x1="322.7" y1="378.0" x2="320.0" y2="405.3" stroke="#f020f0" stroke-width="7.1" stroke-linecap="round"/>
<line x1="286.7" y1="411.3" x2="313.3" y2="411.3" stroke="#f020f0" stroke-width="7.1" stroke-linecap="round"/>
<line x1="282.7" y1="377.3" x2="280.0" y2="404.7" stroke="#f020f0" stroke-width="7.1" stroke-linecap="round"/>
<line x1="286.7" y1="337.3" x2="284.0" y2="364.7" stroke="#f020f0" stroke-width="7.1" stroke-linecap="round"/>
<line x1="290.0" y1="371.3" x2="316.7" y2="371.3" stroke="#f020f0" stroke-width="7.1" stroke-linecap="round"/>
<circle cx="332.7" cy="411.0" r="4.3" fill="#f020f0" stroke="none" stroke-width="1" />
<line x1="365.5" y1="332.1" x2="391.5" y2="332.1" stroke="#f020f0" stroke-width="7.1" stroke-linecap="round"/>
<line x1="396.8" y1="339.1" x2="394.1" y2="365.7" stroke="#f020f0" stroke-width="7.1" stroke-linecap="round"/>
<line x1="393.5" y1="378.4" x2="390.8" y2="405.7" stroke="#f020f0" stroke-width="7.1" stroke-linecap="round"/>
<line x1="357.5" y1="411.7" x2="384.1" y2="411.7" stroke="#f020f0" stroke-width="7.1" stroke-linecap="round"/>
<line x1="353.5" y1="377.7" x2="350.8" y2="405.1" stroke="#f020f0" stroke-width="7.1" stroke-linecap="round"/>
<line x1="357.5" y1="337.7" x2="354.8" y2="365.1" stroke="#f020f0" stroke-width="7.1" stroke-linecap="round"/>
<line x1="360.8" y1="371.7" x2="387.5" y2="371.7" stroke="#f020f0" stroke-width="7.1" stroke-linecap="round"/>
<circle cx="403.5" cy="411.4" r="4.3" fill="#f020f0" stroke="none" stroke-width="1" />
<line x1="435.6" y1="332.5" x2="461.6" y2="332.5" stroke="#f020f0" stroke-width="7.1" stroke-linecap="round"/>
<line x1="466.9" y1="339.5" x2="464.2" y2="366.1" stroke="#f020f0" stroke-width="7.1" stroke-linecap="round"/>
<line x1="463.6" y1="378.8" x2="460.9" y2="406.1" stroke="#f020f0" stroke-width="7.1" stroke-linecap="round"/>
<line x1="427.6" y1="412.1" x2="454.2" y2="412.1" stroke="#f020f0" stroke-width="7.1" stroke-linecap="round"/>
<line x1="423.6" y1="378.1" x2="420.9" y2="405.5" stroke="#f020f0" stroke-width="7.1" stroke-linecap="round"/>
<line x1="427.6" y1="338.1" x2="424.9" y2="365.5" stroke="#f020f0" stroke-width="7.1" stroke-linecap="round"/>
<line x1="430.9" y1="372.1" x2="457.6" y2="372.1" stroke="#f020f0" stroke-width="7.1" stroke-linecap="round"/>
<circle cx="473.6" cy="411.8" r="4.3" fill="#f020f0" stroke="none" stroke-width="1" />
<line x1="506.0" y1="332.9" x2="532.0" y2="332.9" stroke="#f020f0" stroke-width="7.1" stroke-linecap="round"/>
<line x1="537.3" y1="339.9" x2="534.6" y2="366.5" stroke="#f020f0" stroke-width="7.1" stroke-linecap="round"/>
<line x1="534.0" y1="379.2" x2="531.3" y2="406.5" stroke="#f020f0" stroke-width="7.1" stroke-linecap="round"/>
<line x1="498.0" y1="412.5" x2="524.6" y2="412.5" stroke="#f020f0" stroke-width="7.1" stroke-linecap="round"/>
<line x1="494.0" y1="378.5" x2="491.3" y2="405.9" stroke="#f020f0" stroke-width="7.1" stroke-linecap="round"/>
<line x1="498.0" y1="338.5" x2="495.3" y2="365.9" stroke="#f020f0" stroke-width="7.1" stroke-linecap="round"/>
<line x1="501.3" y1="372.5" x2="528.0" y2="372.5" stroke="#f020f0" stroke-width="7.1" stroke-linecap="round"/>
<circle cx="544.0" cy="412.2" r="4.3" fill="#f020f0" stroke="none" stroke-width="1" />
<circle cx="351.6" cy="324.1" r="7.2" fill="#fff" stroke="none" stroke-width="1" />
<rect x="345.0" y="414.8" width="13.2" height="13.4" fill="#fff" stroke="none" stroke-width="1" rx="0" />
<path d="M348.3 325.6 L349.8 321.9 L351.4 325.6 Z M352.2 325.6 L353.7 321.9 L355.2 325.6 Z" fill="#30e0ec" stroke="none" stroke-width="1" />
<path d="M348.3 423.0 L349.8 419.3 L351.4 423.0 Z M352.2 423.0 L353.7 419.3 L355.2 423.0 Z" fill="#30e0ec" stroke="none" stroke-width="1" />
<circle cx="375.7" cy="324.1" r="7.2" fill="#fff" stroke="none" stroke-width="1" />
<circle cx="375.7" cy="421.5" r="7.2" fill="#fff" stroke="none" stroke-width="1" />
<path d="M372.4 325.6 L373.9 321.9 L375.5 325.6 Z M376.3 325.6 L377.8 321.9 L379.3 325.6 Z" fill="#30e0ec" stroke="none" stroke-width="1" />
<path d="M372.4 423.0 L373.9 419.3 L375.5 423.0 Z M376.3 423.0 L377.8 419.3 L379.3 423.0 Z" fill="#30e0ec" stroke="none" stroke-width="1" />
<circle cx="399.8" cy="324.1" r="7.2" fill="#fff" stroke="none" stroke-width="1" />
<circle cx="399.8" cy="421.5" r="7.2" fill="#fff" stroke="none" stroke-width="1" />
<path d="M396.5 325.6 L398.0 321.9 L399.6 325.6 Z M400.4 325.6 L401.9 321.9 L403.4 325.6 Z" fill="#30e0ec" stroke="none" stroke-width="1" />
<path d="M396.5 423.0 L398.0 419.3 L399.6 423.0 Z M400.4 423.0 L401.9 419.3 L403.4 423.0 Z" fill="#30e0ec" stroke="none" stroke-width="1" />
<circle cx="423.8" cy="324.1" r="7.2" fill="#fff" stroke="none" stroke-width="1" />
<circle cx="423.8" cy="421.5" r="7.2" fill="#fff" stroke="none" stroke-width="1" />
<path d="M420.5 325.6 L422.0 321.9 L423.6 325.6 Z M424.4 325.6 L425.9 321.9 L427.4 325.6 Z" fill="#30e0ec" stroke="none" stroke-width="1" />
<path d="M420.5 423.0 L422.0 419.3 L423.6 423.0 Z M424.4 423.0 L425.9 419.3 L427.4 423.0 Z" fill="#30e0ec" stroke="none" stroke-width="1" />
<circle cx="447.9" cy="324.1" r="7.2" fill="#fff" stroke="none" stroke-width="1" />
<circle cx="447.9" cy="421.5" r="7.2" fill="#fff" stroke="none" stroke-width="1" />
<path d="M444.6 325.6 L446.1 321.9 L447.7 325.6 Z M448.5 325.6 L450.0 321.9 L451.5 325.6 Z" fill="#30e0ec" stroke="none" stroke-width="1" />
<path d="M444.6 423.0 L446.1 419.3 L447.7 423.0 Z M448.5 423.0 L450.0 419.3 L451.5 423.0 Z" fill="#30e0ec" stroke="none" stroke-width="1" />
<circle cx="472.0" cy="324.1" r="7.2" fill="#fff" stroke="none" stroke-width="1" />
<circle cx="472.0" cy="421.5" r="7.2" fill="#fff" stroke="none" stroke-width="1" />
<path d="M468.7 325.6 L470.2 321.9 L471.8 325.6 Z M472.6 325.6 L474.1 321.9 L475.6 325.6 Z" fill="#30e0ec" stroke="none" stroke-width="1" />
<path d="M468.7 423.0 L470.2 419.3 L471.8 423.0 Z M472.6 423.0 L474.1 419.3 L475.6 423.0 Z" fill="#30e0ec" stroke="none" stroke-width="1" />
<circle cx="435.3" cy="337.9" r="3.3" fill="#fffbe0" stroke="none" stroke-width="1" />
<circle cx="435.3" cy="337.9" r="1.6" fill="#e8e040" stroke="none" stroke-width="1" />
<circle cx="339.4" cy="421.2" r="3.3" fill="#f8f830" stroke="none" stroke-width="1" />
<rect x="237.8" y="325.1" width="25.6" height="68.4" fill="#f020f0" stroke="none" stroke-width="1" rx="3" />
<rect x="238.6" y="325.8" width="24.0" height="67.0" fill="url(#hA)" stroke="none" stroke-width="1" rx="0" />
<rect x="240.1" y="320.4" width="8.6" height="17.2" fill="#f020f0" stroke="none" stroke-width="1" rx="4.3" />
<rect x="241.1" y="321.6" width="6.6" height="14.8" fill="#fff" stroke="none" stroke-width="1" rx="3.3" />
<rect x="240.1" y="380.8" width="8.6" height="17.4" fill="#f020f0" stroke="none" stroke-width="1" rx="4.3" />
<rect x="241.1" y="382.0" width="6.6" height="15.0" fill="#fff" stroke="none" stroke-width="1" rx="3.3" />
<rect x="252.7" y="320.4" width="8.6" height="17.2" fill="#f020f0" stroke="none" stroke-width="1" rx="4.3" />
<rect x="253.7" y="321.6" width="6.6" height="14.8" fill="#fff" stroke="none" stroke-width="1" rx="3.3" />
<rect x="252.7" y="380.8" width="8.6" height="17.4" fill="#f020f0" stroke="none" stroke-width="1" rx="4.3" />
<rect x="253.7" y="382.0" width="6.6" height="15.0" fill="#fff" stroke="none" stroke-width="1" rx="3.3" />
<rect x="238.0" y="340.2" width="25.0" height="38.4" fill="none" stroke="#f4ec70" stroke-width="1.8" rx="0" />
<circle cx="248.0" cy="368.4" r="5.8" fill="#f6fc10" stroke="none" stroke-width="1" />
<rect x="235.6" y="319.0" width="30.0" height="80.4" fill="none" stroke="#1a8a1a" stroke-width="1.4" rx="0" />
<circle cx="236.6" cy="388.8" r="2.6" fill="#f8f830" stroke="none" stroke-width="1" />
<line x1="245.0" y1="355.0" x2="251.0" y2="355.0" stroke="#a0a0a0" stroke-width="0.8" />
<line x1="248.0" y1="352.0" x2="248.0" y2="358.0" stroke="#a0a0a0" stroke-width="0.8" />
<rect x="210.5" y="402.5" width="16.3" height="37.5" fill="#f020f0" stroke="none" stroke-width="1" rx="3" />
<rect x="212.5" y="417.0" width="12.0" height="14.0" fill="url(#hA)" stroke="none" stroke-width="1" rx="0" />
<rect x="212.3" y="397.9" width="13.0" height="13.3" fill="#f020f0" stroke="none" stroke-width="1" rx="1" />
<rect x="212.3" y="431.1" width="13.0" height="13.3" fill="#f020f0" stroke="none" stroke-width="1" rx="1" />
<rect x="213.1" y="398.7" width="11.4" height="11.7" fill="#fff" stroke="none" stroke-width="1" rx="0" />
<rect x="213.1" y="431.9" width="11.4" height="11.7" fill="#fff" stroke="none" stroke-width="1" rx="0" />
<line x1="209.5" y1="406.2" x2="209.5" y2="435.6" stroke="#f8f830" stroke-width="1.7" />
<line x1="227.5" y1="406.2" x2="227.5" y2="435.6" stroke="#f8f830" stroke-width="1.7" />
<line x1="209.5" y1="415.7" x2="227.5" y2="415.7" stroke="#f8f830" stroke-width="1.7" />
<text x="230.50" y="436.40" font-family="Liberation Sans" font-size="18" fill="#f8f830" stroke="#f8f830" stroke-width="1.6" stroke-linejoin="round" textLength="15.90" lengthAdjust="spacingAndGlyphs">D5</text>
<rect x="237.0" y="406.0" width="26.0" height="13.0" fill="#f020f0" stroke="none" stroke-width="1" rx="0" />
<rect x="245.5" y="406.5" width="9.0" height="12.0" fill="url(#hA)" stroke="none" stroke-width="1" rx="0" />
<rect x="238.0" y="407.0" width="7.5" height="11.0" fill="#fff" stroke="none" stroke-width="1" rx="0" />
<rect x="254.5" y="407.0" width="7.5" height="11.0" fill="#fff" stroke="none" stroke-width="1" rx="0" />
<path d="M247.0 404.0 H235.0 V421.0 H247.0 M253.0 404.0 H265.0 V421.0 H253.0" fill="none" stroke="#f8f830" stroke-width="1.8" />
<line x1="220.8" y1="450.2" x2="266.0" y2="450.2" stroke="#f8f830" stroke-width="2" />
<line x1="220.8" y1="507.8" x2="266.0" y2="507.8" stroke="#f8f830" stroke-width="2" />
<line x1="214.4" y1="468.8" x2="214.4" y2="489.0" stroke="#f8f830" stroke-width="2.6" />
<line x1="272.0" y1="468.8" x2="272.0" y2="489.0" stroke="#f8f830" stroke-width="2.6" />
<rect x="228.3" y="464.5" width="29.4" height="28.8" fill="#f020f0" stroke="none" stroke-width="1" rx="0" />
<circle cx="243.2" cy="478.4" r="4.6" fill="#fff" stroke="none" stroke-width="1" />
<rect x="198.3" y="451.9" width="17.7" height="12.1" fill="#f020f0" stroke="none" stroke-width="1" rx="0" />
<rect x="199.3" y="452.6" width="16.0" height="10.7" fill="#fff" stroke="none" stroke-width="1" rx="0" />
<rect x="198.3" y="494.9" width="17.7" height="12.1" fill="#f020f0" stroke="none" stroke-width="1" rx="0" />
<rect x="199.3" y="495.6" width="16.0" height="10.7" fill="#fff" stroke="none" stroke-width="1" rx="0" />
<rect x="270.1" y="451.9" width="18.1" height="12.1" fill="#f020f0" stroke="none" stroke-width="1" rx="0" />
<rect x="271.1" y="452.6" width="16.4" height="10.7" fill="#fff" stroke="none" stroke-width="1" rx="0" />
<rect x="270.1" y="494.9" width="18.1" height="12.1" fill="#f020f0" stroke="none" stroke-width="1" rx="0" />
<rect x="271.1" y="495.6" width="16.4" height="10.7" fill="#fff" stroke="none" stroke-width="1" rx="0" />
<circle cx="243.2" cy="500.8" r="3.2" fill="#fffbe0" stroke="none" stroke-width="1" />
<circle cx="243.2" cy="500.8" r="1.6" fill="#e8e040" stroke="none" stroke-width="1" />
<text x="174.65" y="487.65" font-family="Liberation Sans" font-size="25.5" fill="#f8f830" stroke="#f8f830" stroke-width="1.3" stroke-linejoin="round" textLength="26.70" lengthAdjust="spacingAndGlyphs">S1</text>
<rect x="316.4" y="449.6" width="79.2" height="58.4" fill="#f020f0" stroke="none" stroke-width="1" rx="0" />
<rect x="317.4" y="450.6" width="77.2" height="56.4" fill="url(#hF)" stroke="none" stroke-width="1" rx="0" />
<rect x="310.6" y="451.0" width="17.4" height="13.2" fill="#f020f0" stroke="none" stroke-width="1" rx="0" />
<rect x="311.6" y="452.0" width="15.4" height="11.2" fill="#fff" stroke="none" stroke-width="1" rx="0" />
<rect x="310.6" y="494.3" width="17.4" height="13.2" fill="#f020f0" stroke="none" stroke-width="1" rx="0" />
<rect x="311.6" y="495.3" width="15.4" height="11.2" fill="#fff" stroke="none" stroke-width="1" rx="0" />
<rect x="383.4" y="451.0" width="17.5" height="13.2" fill="#f020f0" stroke="none" stroke-width="1" rx="0" />
<rect x="384.4" y="452.0" width="15.5" height="11.2" fill="#fff" stroke="none" stroke-width="1" rx="0" />
<rect x="383.4" y="494.3" width="17.5" height="13.2" fill="#f020f0" stroke="none" stroke-width="1" rx="0" />
<rect x="384.4" y="495.3" width="15.5" height="11.2" fill="#fff" stroke="none" stroke-width="1" rx="0" />
<line x1="333.6" y1="450.2" x2="378.4" y2="450.2" stroke="#f8f830" stroke-width="2" />
<line x1="333.6" y1="506.9" x2="378.4" y2="506.9" stroke="#f8f830" stroke-width="2" />
<line x1="327.6" y1="468.3" x2="327.6" y2="489.4" stroke="#f8f830" stroke-width="2" />
<line x1="385.0" y1="468.3" x2="385.0" y2="489.4" stroke="#f8f830" stroke-width="2" />
<circle cx="355.6" cy="478.4" r="17.7" fill="none" stroke="#f8f060" stroke-width="2.6" />
<circle cx="355.6" cy="500.6" r="3.4" fill="#fff" stroke="#f8f830" stroke-width="1.4" />
<circle cx="355.6" cy="500.6" r="1.3" fill="#f8f830" stroke="none" stroke-width="1" />
<rect x="429.2" y="449.6" width="79.2" height="58.4" fill="#f020f0" stroke="none" stroke-width="1" rx="0" />
<rect x="430.2" y="450.6" width="77.2" height="56.4" fill="url(#hF)" stroke="none" stroke-width="1" rx="0" />
<rect x="423.4" y="451.0" width="17.4" height="13.2" fill="#f020f0" stroke="none" stroke-width="1" rx="0" />
<rect x="424.4" y="452.0" width="15.4" height="11.2" fill="#fff" stroke="none" stroke-width="1" rx="0" />
<rect x="423.4" y="494.3" width="17.4" height="13.2" fill="#f020f0" stroke="none" stroke-width="1" rx="0" />
<rect x="424.4" y="495.3" width="15.4" height="11.2" fill="#fff" stroke="none" stroke-width="1" rx="0" />
<rect x="496.2" y="451.0" width="17.5" height="13.2" fill="#f020f0" stroke="none" stroke-width="1" rx="0" />
<rect x="497.2" y="452.0" width="15.5" height="11.2" fill="#fff" stroke="none" stroke-width="1" rx="0" />
<rect x="496.2" y="494.3" width="17.5" height="13.2" fill="#f020f0" stroke="none" stroke-width="1" rx="0" />
<rect x="497.2" y="495.3" width="15.5" height="11.2" fill="#fff" stroke="none" stroke-width="1" rx="0" />
<line x1="446.4" y1="450.2" x2="491.2" y2="450.2" stroke="#f8f830" stroke-width="2" />
<line x1="446.4" y1="506.9" x2="491.2" y2="506.9" stroke="#f8f830" stroke-width="2" />
<line x1="440.4" y1="468.3" x2="440.4" y2="489.4" stroke="#f8f830" stroke-width="2" />
<line x1="497.8" y1="468.3" x2="497.8" y2="489.4" stroke="#f8f830" stroke-width="2" />
<circle cx="468.4" cy="478.4" r="17.7" fill="none" stroke="#f8f060" stroke-width="2.6" />
<circle cx="468.4" cy="500.6" r="3.4" fill="#fff" stroke="#f8f830" stroke-width="1.4" />
<circle cx="468.4" cy="500.6" r="1.3" fill="#f8f830" stroke="none" stroke-width="1" />
<rect x="541.6" y="449.6" width="79.2" height="58.4" fill="#f020f0" stroke="none" stroke-width="1" rx="0" />
<rect x="542.6" y="450.6" width="77.2" height="56.4" fill="url(#hF)" stroke="none" stroke-width="1" rx="0" />
<rect x="535.8" y="451.0" width="17.4" height="13.2" fill="#f020f0" stroke="none" stroke-width="1" rx="0" />
<rect x="536.8" y="452.0" width="15.4" height="11.2" fill="#fff" stroke="none" stroke-width="1" rx="0" />
<rect x="535.8" y="494.3" width="17.4" height="13.2" fill="#f020f0" stroke="none" stroke-width="1" rx="0" />
<rect x="536.8" y="495.3" width="15.4" height="11.2" fill="#fff" stroke="none" stroke-width="1" rx="0" />
<rect x="608.6" y="451.0" width="17.5" height="13.2" fill="#f020f0" stroke="none" stroke-width="1" rx="0" />
<rect x="609.6" y="452.0" width="15.5" height="11.2" fill="#fff" stroke="none" stroke-width="1" rx="0" />
<rect x="608.6" y="494.3" width="17.5" height="13.2" fill="#f020f0" stroke="none" stroke-width="1" rx="0" />
<rect x="609.6" y="495.3" width="15.5" height="11.2" fill="#fff" stroke="none" stroke-width="1" rx="0" />
<line x1="558.8" y1="450.2" x2="603.6" y2="450.2" stroke="#f8f830" stroke-width="2" />
<line x1="558.8" y1="506.9" x2="603.6" y2="506.9" stroke="#f8f830" stroke-width="2" />
<line x1="552.8" y1="468.3" x2="552.8" y2="489.4" stroke="#f8f830" stroke-width="2" />
<line x1="610.2" y1="468.3" x2="610.2" y2="489.4" stroke="#f8f830" stroke-width="2" />
<circle cx="580.8" cy="478.4" r="17.7" fill="none" stroke="#f8f060" stroke-width="2.6" />
<circle cx="580.8" cy="500.6" r="3.4" fill="#fff" stroke="#f8f830" stroke-width="1.4" />
<circle cx="580.8" cy="500.6" r="1.3" fill="#f8f830" stroke="none" stroke-width="1" />
<text x="285.25" y="493.05" font-family="Liberation Sans" font-size="26" fill="#f8f830" stroke="#f8f830" stroke-width="1.3" stroke-linejoin="round" textLength="28.40" lengthAdjust="spacingAndGlyphs">S2</text>
<text x="398.15" y="492.65" font-family="Liberation Sans" font-size="26" fill="#f8f830" stroke="#f8f830" stroke-width="1.3" stroke-linejoin="round" textLength="29.20" lengthAdjust="spacingAndGlyphs">S3</text>
<text x="510.15" y="488.25" font-family="Liberation Sans" font-size="26" fill="#f8f830" stroke="#f8f830" stroke-width="1.3" stroke-linejoin="round" textLength="28.50" lengthAdjust="spacingAndGlyphs">S4</text>
<path d="M300.6 474.3 V455.5 M293.5 461.8 L300.6 454.5 L307.2 461.8" fill="none" stroke="#f8f830" stroke-width="2.6" stroke-linecap="round" stroke-linejoin="round"/>
<path d="M413.9 454 V472 M407 465.2 L413.9 472.5 L420.6 465.2" fill="none" stroke="#f8f830" stroke-width="2.6" stroke-linecap="round" stroke-linejoin="round"/>
<rect x="630.0" y="297.0" width="74.0" height="5.0" fill="#f020f0" stroke="none" stroke-width="1" rx="0" />
<rect x="630.0" y="297.6" width="74.0" height="3.4" fill="url(#hA)" stroke="none" stroke-width="1" rx="0" />
<rect x="629.0" y="300.5" width="78.4" height="142.0" fill="#f020f0" stroke="none" stroke-width="1" rx="0" />
<rect x="630.5" y="302.0" width="75.5" height="139.0" fill="url(#hT)" stroke="none" stroke-width="1" rx="0" />
<rect x="630.5" y="302.0" width="12.5" height="139.0" fill="url(#hW2)" stroke="none" stroke-width="1" rx="0" />
<line x1="645.0" y1="344.2" x2="706.0" y2="344.2" stroke="#f040f0" stroke-width="1.3" />
<line x1="645.0" y1="350.6" x2="706.0" y2="350.6" stroke="#f040f0" stroke-width="1.3" />
<line x1="645.0" y1="390.4" x2="706.0" y2="390.4" stroke="#f040f0" stroke-width="1.3" />
<line x1="645.0" y1="396.8" x2="706.0" y2="396.8" stroke="#f040f0" stroke-width="1.3" />
<line x1="677.0" y1="311.2" x2="681.5" y2="311.2" stroke="#f4e8f4" stroke-width="1.3" />
<line x1="684.5" y1="311.2" x2="689.0" y2="311.2" stroke="#f4e8f4" stroke-width="1.3" />
<line x1="692.0" y1="311.2" x2="696.5" y2="311.2" stroke="#f4e8f4" stroke-width="1.3" />
<line x1="699.5" y1="311.2" x2="704.0" y2="311.2" stroke="#f4e8f4" stroke-width="1.3" />
<line x1="677.0" y1="339.1" x2="681.5" y2="339.1" stroke="#f4e8f4" stroke-width="1.3" />
<line x1="684.5" y1="339.1" x2="689.0" y2="339.1" stroke="#f4e8f4" stroke-width="1.3" />
<line x1="692.0" y1="339.1" x2="696.5" y2="339.1" stroke="#f4e8f4" stroke-width="1.3" />
<line x1="699.5" y1="339.1" x2="704.0" y2="339.1" stroke="#f4e8f4" stroke-width="1.3" />
<line x1="677.0" y1="357.5" x2="681.5" y2="357.5" stroke="#f4e8f4" stroke-width="1.3" />
<line x1="684.5" y1="357.5" x2="689.0" y2="357.5" stroke="#f4e8f4" stroke-width="1.3" />
<line x1="692.0" y1="357.5" x2="696.5" y2="357.5" stroke="#f4e8f4" stroke-width="1.3" />
<line x1="699.5" y1="357.5" x2="704.0" y2="357.5" stroke="#f4e8f4" stroke-width="1.3" />
<line x1="677.0" y1="384.7" x2="681.5" y2="384.7" stroke="#f4e8f4" stroke-width="1.3" />
<line x1="684.5" y1="384.7" x2="689.0" y2="384.7" stroke="#f4e8f4" stroke-width="1.3" />
<line x1="692.0" y1="384.7" x2="696.5" y2="384.7" stroke="#f4e8f4" stroke-width="1.3" />
<line x1="699.5" y1="384.7" x2="704.0" y2="384.7" stroke="#f4e8f4" stroke-width="1.3" />
<line x1="677.0" y1="403.9" x2="681.5" y2="403.9" stroke="#f4e8f4" stroke-width="1.3" />
<line x1="684.5" y1="403.9" x2="689.0" y2="403.9" stroke="#f4e8f4" stroke-width="1.3" />
<line x1="692.0" y1="403.9" x2="696.5" y2="403.9" stroke="#f4e8f4" stroke-width="1.3" />
<line x1="699.5" y1="403.9" x2="704.0" y2="403.9" stroke="#f4e8f4" stroke-width="1.3" />
<line x1="677.0" y1="431.7" x2="681.5" y2="431.7" stroke="#f4e8f4" stroke-width="1.3" />
<line x1="684.5" y1="431.7" x2="689.0" y2="431.7" stroke="#f4e8f4" stroke-width="1.3" />
<line x1="692.0" y1="431.7" x2="696.5" y2="431.7" stroke="#f4e8f4" stroke-width="1.3" />
<line x1="699.5" y1="431.7" x2="704.0" y2="431.7" stroke="#f4e8f4" stroke-width="1.3" />
<rect x="629.6" y="301.4" width="77.2" height="140.2" fill="none" stroke="#f8f830" stroke-width="2.2" rx="0" />
<line x1="644.1" y1="302.0" x2="644.1" y2="441.0" stroke="#f8f830" stroke-width="2.6" stroke-dasharray="5 2"/>
<line x1="706.2" y1="302.0" x2="706.2" y2="441.0" stroke="#f8f830" stroke-width="2" stroke-dasharray="5 2"/>
<circle cx="667.9" cy="325.2" r="13.0" fill="#f0a0f0" stroke="none" stroke-width="1" />
<circle cx="667.9" cy="325.2" r="12.2" fill="#fff" stroke="none" stroke-width="1" />
<path d="M662.9 325.5 Q663.7 320.3 666.9 320.3 L667.3 323.9 H668.5 L668.9 320.3 Q672.1 320.3 672.9 325.5 Z" fill="#10e4ee" stroke="none" stroke-width="1" />
<circle cx="668.5" cy="328.3" r="0.9" fill="#10c8d0" stroke="none" stroke-width="1" />
<circle cx="667.9" cy="371.6" r="13.0" fill="#f0a0f0" stroke="none" stroke-width="1" />
<circle cx="667.9" cy="371.6" r="12.2" fill="#fff" stroke="none" stroke-width="1" />
<path d="M662.9 371.9 Q663.7 366.7 666.9 366.7 L667.3 370.3 H668.5 L668.9 366.7 Q672.1 366.7 672.9 371.9 Z" fill="#10e4ee" stroke="none" stroke-width="1" />
<circle cx="668.5" cy="374.7" r="0.9" fill="#10c8d0" stroke="none" stroke-width="1" />
<circle cx="667.9" cy="417.8" r="13.0" fill="#f0a0f0" stroke="none" stroke-width="1" />
<circle cx="667.9" cy="417.8" r="12.2" fill="#fff" stroke="none" stroke-width="1" />
<path d="M662.9 418.1 Q663.7 412.9 666.9 412.9 L667.3 416.5 H668.5 L668.9 412.9 Q672.1 412.9 672.9 418.1 Z" fill="#10e4ee" stroke="none" stroke-width="1" />
<circle cx="668.5" cy="420.9" r="0.9" fill="#10c8d0" stroke="none" stroke-width="1" />
<line x1="659.5" y1="348.4" x2="676.5" y2="348.4" stroke="#f8f830" stroke-width="5" stroke-linecap="round"/>
<line x1="659.5" y1="394.6" x2="676.5" y2="394.6" stroke="#f8f830" stroke-width="5" stroke-linecap="round"/>
<text x="661.95" y="294.95" font-family="Liberation Sans" font-size="31" font-weight="bold" fill="#f8f830" stroke="#f8f830" stroke-width="0.7" stroke-linejoin="round" textLength="31.70" lengthAdjust="spacingAndGlyphs">NC</text>
<text x="660.25" y="469.45" font-family="Liberation Sans" font-size="31" font-weight="bold" fill="#f8f830" stroke="#f8f830" stroke-width="0.7" stroke-linejoin="round" textLength="30.30" lengthAdjust="spacingAndGlyphs">NO</text>
</svg></body></html>
